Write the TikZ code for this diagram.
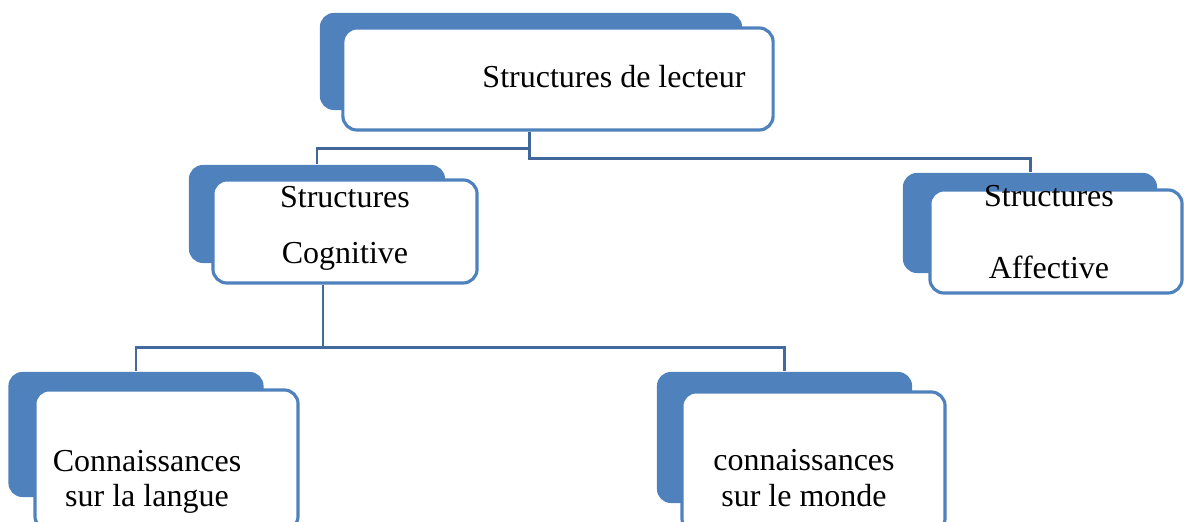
\documentclass[tikz,border=0pt]{standalone}
\usepackage{xcolor}
\usepackage{fontspec}
\setmainfont{Liberation Serif}
\usepackage{tikz}
\usetikzlibrary{arrows, positioning}

\definecolor{boxblue}{HTML}{4F81BD}
\definecolor{linkblue}{HTML}{3F6799}

\begin{document}
\begin{tikzpicture}[x=0.01cm, y=-0.01cm,
					back/.style={rectangle, rounded corners=0.14cm, fill=boxblue, draw=none},
					front/.style={rectangle, rounded corners=0.14cm, fill=white, draw=boxblue, line width=0.9pt},
					txt/.style={align=center, inner sep=0pt, font=\fontsize{9.1}{10}\selectfont},
					link/.style={draw=linkblue, line width=0.85pt},
					sublink/.style={draw=linkblue!85!boxblue, line width=0.65pt}]
					
					\useasboundingbox (0,0) rectangle (1184,522);
					
					% top box
					\node[back, minimum width=4.22cm, minimum height=0.97cm] (lecteurS) at (531,61.5) {};
					\node[front, minimum width=4.30cm, minimum height=1.02cm] (lecteur) at (558,79) {};
					\node[txt] (lecteurT) at (614,77) {Structures de lecteur};
					
					% second row
					\node[back, minimum width=2.56cm, minimum height=0.98cm] (cogS) at (317,214) {};
					\node[front, minimum width=2.64cm, minimum height=1.03cm] (cog) at (345,231.5) {};
					\node[txt] (cogT) at (345,228) {Structures\\[5.9pt]Cognitive};
					
					\node[back, minimum width=2.54cm, minimum height=1.00cm] (affS) at (1030,223) {};
					\node[front, minimum width=2.52cm, minimum height=1.03cm] (aff) at (1056,241.5) {};
					\node[txt] (affT) at (1049,232) {Structures\\[10.4pt]Affective};
					
					% third row
					\node[back, minimum width=2.55cm, minimum height=1.25cm] (langS) at (136,434.5) {};
					\node[front, minimum width=2.63cm, minimum height=1.40cm] (lang) at (166.5,460) {};
					\node[txt] (langT) at (147,482) {Connaissances\\sur la langue};
					
					\node[back, minimum width=2.55cm, minimum height=1.31cm] (mondeS) at (784.5,437.5) {};
					\node[front, minimum width=2.63cm, minimum height=1.40cm] (monde) at (813.5,462) {};
					\node[txt] (mondeT) at (804,478) {connaissances\\sur le monde};
					
					% links
					\draw[link] ([xshift=-0.28cm]lecteur.south) -- ++(0,17) -| (cogS.north);
					\draw[link] ([xshift=-0.28cm]lecteur.south) -- ++(0,27) -| (affS.north);
					\draw[sublink] ([xshift=-0.22cm]cog.south) -- ++(0,63) -| (langS.north);
					\draw[sublink] ([xshift=-0.22cm]cog.south) -- ++(0,63) -| (mondeS.north);
				\end{tikzpicture}
\end{document}
